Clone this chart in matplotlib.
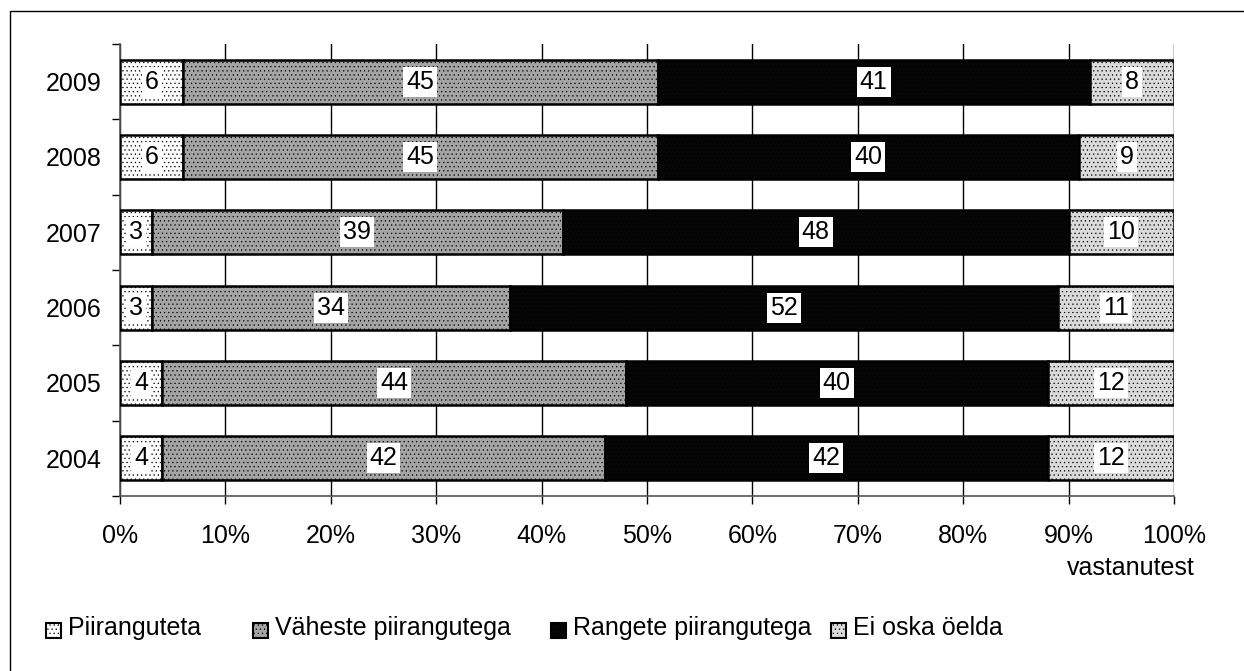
import numpy as np
import matplotlib.pyplot as plt
from matplotlib.patches import Rectangle

plt.rcParams['font.family'] = ['Liberation Sans', 'DejaVu Sans']

years = ['2009', '2008', '2007', '2006', '2005', '2004']
series = ['Piiranguteta', 'Väheste piirangutega', 'Rangete piirangutega', 'Ei oska öelda']
piiranguteta = [6, 6, 3, 3, 4, 4]
vaheste = [45, 45, 39, 34, 44, 42]
rangete = [41, 40, 48, 52, 40, 42]
ei_oska = [8, 9, 10, 11, 12, 12]
xticks = [0, 10, 20, 30, 40, 50, 60, 70, 80, 90, 100]

colors = ['#fcfcfc', '#a4a4a4', '#050505', '#dadada']
hatches = ['....', '....', '....', '....']
hatch_colors = ['#e2e2e2', '#888888', '#3a3a3a', '#b4b4b4']

fig = plt.figure(figsize=(12.44, 6.71), dpi=100)
W, H = 1244, 671
ax = fig.add_axes([120 / W, 1 - 496 / H, (1174 - 120) / W, (496 - 44) / H])

data = [piiranguteta, vaheste, rangete, ei_oska]
ypos = np.arange(len(years))[::-1]  # 2009 on top
left = np.zeros(len(years))
plt.rcParams['hatch.linewidth'] = 0.4
for vals, c, h, hc in zip(data, colors, hatches, hatch_colors):
    vals = np.array(vals)
    plt.rcParams['hatch.color'] = hc
    ax.barh(ypos, vals, left=left, height=0.58, color=c, edgecolor='black',
            linewidth=1.8, hatch=h, zorder=3)
    for y, l, v in zip(ypos, left, vals):
        ax.text(l + v / 2, y, str(v), ha='center', va='center', fontsize=18, zorder=5,
                bbox=dict(boxstyle='square,pad=0.12', fc='white', ec='none'))
    left += vals

ax.set_xlim(0, 100)
ax.set_ylim(-0.5, len(years) - 0.5)
ax.set_xticks(xticks)
ax.set_xticklabels([f'{t}%' for t in xticks], fontsize=18)
ax.xaxis.grid(True, color='black', linewidth=1, zorder=0)
ax.set_axisbelow(True)
ax.tick_params(axis='x', direction='out', length=6, width=1, pad=14)

ax.set_yticks(np.arange(-0.5, len(years), 1))
ax.set_yticklabels([])
ax.set_yticks(ypos, minor=True)
ax.set_yticklabels(years, minor=True, fontsize=18)
ax.tick_params(axis='y', which='major', direction='out', length=6, width=1)
ax.tick_params(axis='y', which='minor', length=0, pad=13)

for s in ['top', 'right']:
    ax.spines[s].set_visible(False)
for s in ['left', 'bottom']:
    ax.spines[s].set_color('#555555')
    ax.spines[s].set_linewidth(1.2)

fig.text(1195 / W, 1 - 568 / H, 'vastanutest', ha='right', va='center', fontsize=18)

# legend
leg_x = [46, 253, 551, 831]
for x, name, c, h, hc in zip(leg_x, series, colors, hatches, hatch_colors):
    plt.rcParams['hatch.color'] = hc
    fig.patches.append(Rectangle((x / W, 1 - 638 / H), 15 / W, 15 / H, transform=fig.transFigure,
                                 facecolor=c, edgecolor='black', linewidth=1.5, hatch=h))
    fig.text((x + 22) / W, 1 - 628 / H, name, ha='left', va='center', fontsize=18)

# outer frame: only the top and left edges fall inside the image
fig.patches.append(Rectangle((10 / W, -20 / H), 1260 / W, (671 - 11 + 20) / H, transform=fig.transFigure,
                             facecolor='none', edgecolor='black', linewidth=1))

fig.savefig('out.png', dpi=100)
